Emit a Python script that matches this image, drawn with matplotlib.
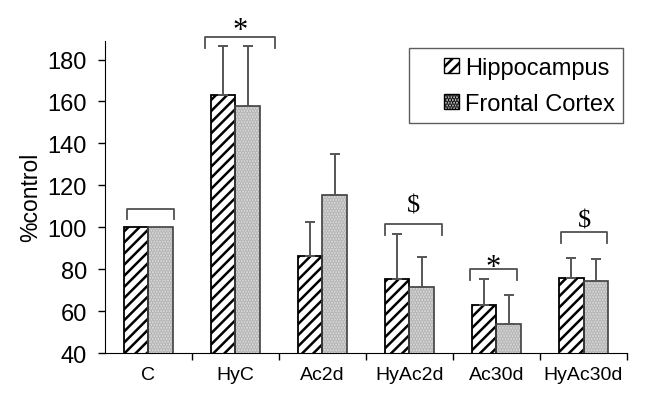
import matplotlib
matplotlib.use("Agg")
import matplotlib.pyplot as plt
from matplotlib.patches import Rectangle
from matplotlib.legend_handler import HandlerPatch
import numpy as np

categories = ["C", "HyC", "Ac2d", "HyAc2d", "Ac30d", "HyAc30d"]
hippocampus = [100, 163, 86.5, 75.5, 63, 76]
hippocampus_err = [0, 23.5, 16, 21.5, 12.5, 9.5]
frontal = [100, 158, 115.5, 71.5, 53.8, 74.5]
frontal_err = [0, 28.5, 19.5, 14.5, 14, 10.5]

# significance brackets: height, left/right extent, marker and its baseline
bracket_y = [108.7, 190.7, None, 101.5, 79.9, 97.7]
bracket_left = [-0.25, -0.35, 0, -0.28, -0.30, -0.26]
bracket_right = [0.29, 0.45, 0, 0.37, 0.23, 0.27]
marks = ["", "*", "", "$", "*", "$"]
mark_y = [None, 190.5, None, 107.6, 77.2, 100.4]

plt.rcParams["font.family"] = ["Liberation Sans", "DejaVu Sans"]
plt.rcParams["hatch.linewidth"] = 1.8

fig = plt.figure(figsize=(6.46, 4.02), dpi=100)
ax = fig.add_axes([0.1625, 0.1194, 0.8081, 0.7769])

x = np.arange(len(categories))
w = 0.287

# hatch layer then outline layer
hb = ax.bar(x - w / 2, hippocampus, w, color="white", edgecolor="black",
            hatch="///", linewidth=0, zorder=2)
ax.bar(x - w / 2, hippocampus, w, fill=False, edgecolor="black", linewidth=1.3, zorder=3)
fb = ax.bar(x + w / 2, frontal, w, color="#e0e0e0", edgecolor="#b0b0b0",
            hatch="......", linewidth=0, zorder=2)
ax.bar(x + w / 2, frontal, w, fill=False, edgecolor="#404040", linewidth=1.2, zorder=3)

# upper error bars only
for xs, vals, errs in [(x - w / 2, hippocampus, hippocampus_err), (x + w / 2, frontal, frontal_err)]:
    for xi, v, e in zip(xs, vals, errs):
        if e > 0:
            ax.errorbar(xi, v, yerr=[[0], [e]], color="#555555", elinewidth=1.4,
                        capsize=3.5, capthick=1.4, zorder=4, clip_on=False)

for i, by in enumerate(bracket_y):
    if by is None:
        continue
    x0 = x[i] + bracket_left[i]
    x1 = x[i] + bracket_right[i]
    ax.plot([x0, x0, x1, x1], [by - 5, by, by, by - 5], color="#505050",
            lw=1.3, clip_on=False, zorder=4)
    xc = (x0 + x1) / 2
    size = 22 if marks[i] == "*" else 19
    ax.text(xc, mark_y[i], marks[i], ha="center", va="baseline", fontsize=size,
            family="Liberation Serif", clip_on=False)

ax.set_xlim(-0.5, len(categories) - 0.5)
ax.set_ylim(40, 189)
ax.set_yticks(range(40, 181, 20))
ax.tick_params(axis="y", labelsize=17, direction="out", length=5, width=1, pad=8)
ax.set_xticks(x)
ax.set_xticklabels(categories, fontsize=14)
ax.tick_params(axis="x", which="major", length=0, pad=9)
ax.set_xticks(x + 0.5, minor=True)
ax.tick_params(axis="x", which="minor", length=5, direction="out", width=1)
ax.set_ylabel("%control", fontsize=16.5, labelpad=4)

ax.spines["top"].set_visible(False)
ax.spines["right"].set_visible(False)


def square_handle(legend, orig_handle, xdescent, ydescent, width, height, fontsize):
    side = height
    return Rectangle((width - side - xdescent, -ydescent), side, side)


leg = ax.legend([hb.patches[0], fb.patches[0]], ["Hippocampus", "Frontal Cortex"],
                loc="upper right", bbox_to_anchor=(0.992, 0.975), fontsize=17,
                frameon=True, fancybox=False, edgecolor="#333333",
                handlelength=1.75, handleheight=0.6, handletextpad=0.25,
                borderpad=0.35, labelspacing=0.6, borderaxespad=0,
                handler_map={Rectangle: HandlerPatch(patch_func=square_handle)})
leg.get_frame().set_linewidth(1.0)
for p in leg.get_patches():
    p.set_linewidth(1.0)
    p.set_edgecolor("black")

fig.savefig("out.png", dpi=100)
